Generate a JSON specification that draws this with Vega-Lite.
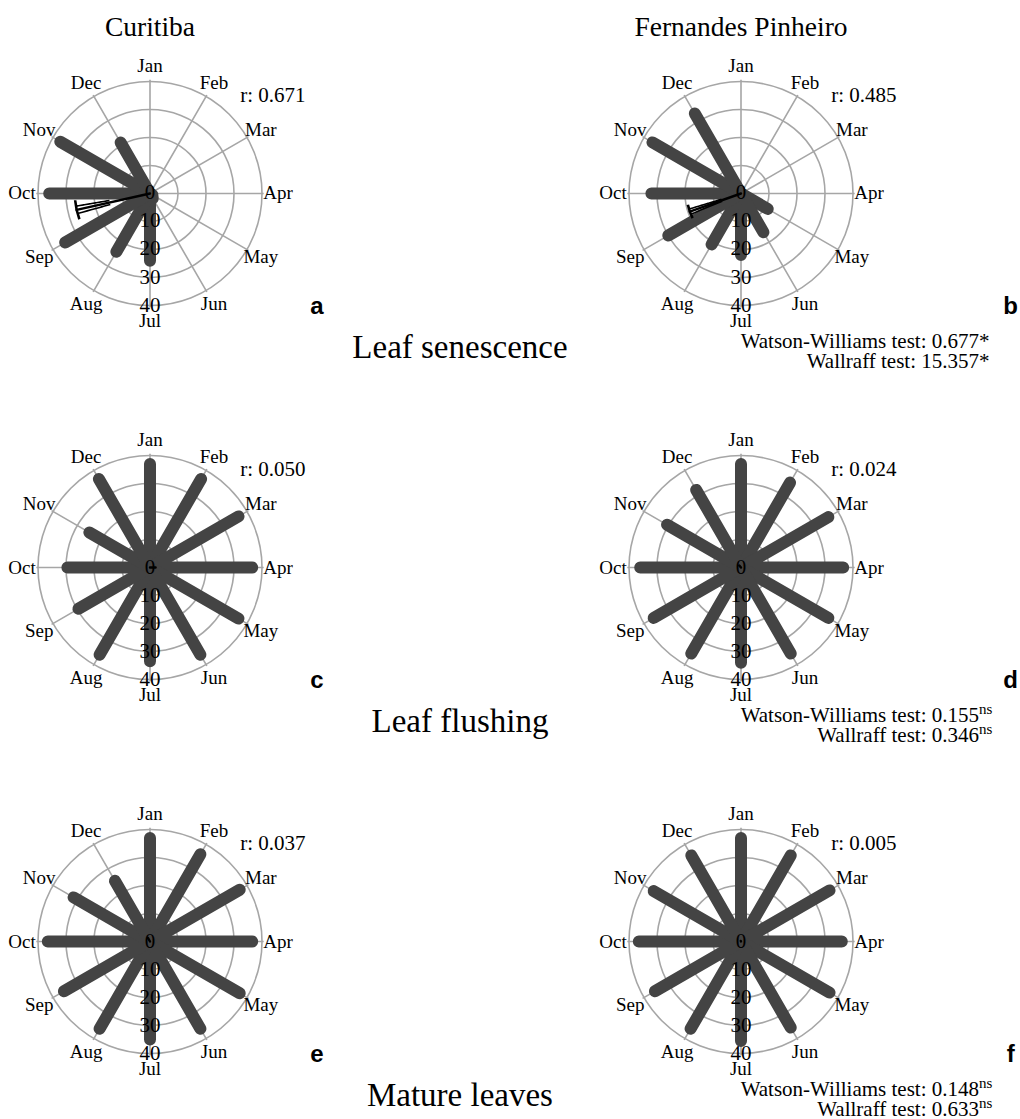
{
  "$schema": "https://vega.github.io/schema/vega-lite/v6.json",
  "padding": 0,
  "background": "white",
  "data": {"values": [
    {"k":"bar","site":"Curitiba","phase":"Leaf senescence","month":"Jan","mi":0,"count":0},
    {"k":"bar","site":"Curitiba","phase":"Leaf senescence","month":"Feb","mi":1,"count":0},
    {"k":"bar","site":"Curitiba","phase":"Leaf senescence","month":"Mar","mi":2,"count":0},
    {"k":"bar","site":"Curitiba","phase":"Leaf senescence","month":"Apr","mi":3,"count":0},
    {"k":"bar","site":"Curitiba","phase":"Leaf senescence","month":"May","mi":4,"count":1},
    {"k":"bar","site":"Curitiba","phase":"Leaf senescence","month":"Jun","mi":5,"count":2},
    {"k":"bar","site":"Curitiba","phase":"Leaf senescence","month":"Jul","mi":6,"count":24},
    {"k":"bar","site":"Curitiba","phase":"Leaf senescence","month":"Aug","mi":7,"count":24},
    {"k":"bar","site":"Curitiba","phase":"Leaf senescence","month":"Sep","mi":8,"count":35},
    {"k":"bar","site":"Curitiba","phase":"Leaf senescence","month":"Oct","mi":9,"count":36},
    {"k":"bar","site":"Curitiba","phase":"Leaf senescence","month":"Nov","mi":10,"count":37},
    {"k":"bar","site":"Curitiba","phase":"Leaf senescence","month":"Dec","mi":11,"count":21},
    {"k":"bar","site":"Fernandes Pinheiro","phase":"Leaf senescence","month":"Jan","mi":0,"count":0},
    {"k":"bar","site":"Fernandes Pinheiro","phase":"Leaf senescence","month":"Feb","mi":1,"count":0},
    {"k":"bar","site":"Fernandes Pinheiro","phase":"Leaf senescence","month":"Mar","mi":2,"count":0},
    {"k":"bar","site":"Fernandes Pinheiro","phase":"Leaf senescence","month":"Apr","mi":3,"count":0},
    {"k":"bar","site":"Fernandes Pinheiro","phase":"Leaf senescence","month":"May","mi":4,"count":11},
    {"k":"bar","site":"Fernandes Pinheiro","phase":"Leaf senescence","month":"Jun","mi":5,"count":16},
    {"k":"bar","site":"Fernandes Pinheiro","phase":"Leaf senescence","month":"Jul","mi":6,"count":22},
    {"k":"bar","site":"Fernandes Pinheiro","phase":"Leaf senescence","month":"Aug","mi":7,"count":21},
    {"k":"bar","site":"Fernandes Pinheiro","phase":"Leaf senescence","month":"Sep","mi":8,"count":30},
    {"k":"bar","site":"Fernandes Pinheiro","phase":"Leaf senescence","month":"Oct","mi":9,"count":32},
    {"k":"bar","site":"Fernandes Pinheiro","phase":"Leaf senescence","month":"Nov","mi":10,"count":36.5},
    {"k":"bar","site":"Fernandes Pinheiro","phase":"Leaf senescence","month":"Dec","mi":11,"count":33},
    {"k":"bar","site":"Curitiba","phase":"Leaf flushing","month":"Jan","mi":0,"count":37},
    {"k":"bar","site":"Curitiba","phase":"Leaf flushing","month":"Feb","mi":1,"count":36.5},
    {"k":"bar","site":"Curitiba","phase":"Leaf flushing","month":"Mar","mi":2,"count":36.5},
    {"k":"bar","site":"Curitiba","phase":"Leaf flushing","month":"Apr","mi":3,"count":36.5},
    {"k":"bar","site":"Curitiba","phase":"Leaf flushing","month":"May","mi":4,"count":36.5},
    {"k":"bar","site":"Curitiba","phase":"Leaf flushing","month":"Jun","mi":5,"count":36},
    {"k":"bar","site":"Curitiba","phase":"Leaf flushing","month":"Jul","mi":6,"count":33.5},
    {"k":"bar","site":"Curitiba","phase":"Leaf flushing","month":"Aug","mi":7,"count":36},
    {"k":"bar","site":"Curitiba","phase":"Leaf flushing","month":"Sep","mi":8,"count":29.5},
    {"k":"bar","site":"Curitiba","phase":"Leaf flushing","month":"Oct","mi":9,"count":29.5},
    {"k":"bar","site":"Curitiba","phase":"Leaf flushing","month":"Nov","mi":10,"count":25},
    {"k":"bar","site":"Curitiba","phase":"Leaf flushing","month":"Dec","mi":11,"count":36.5},
    {"k":"bar","site":"Fernandes Pinheiro","phase":"Leaf flushing","month":"Jan","mi":0,"count":37},
    {"k":"bar","site":"Fernandes Pinheiro","phase":"Leaf flushing","month":"Feb","mi":1,"count":35},
    {"k":"bar","site":"Fernandes Pinheiro","phase":"Leaf flushing","month":"Mar","mi":2,"count":36},
    {"k":"bar","site":"Fernandes Pinheiro","phase":"Leaf flushing","month":"Apr","mi":3,"count":36.5},
    {"k":"bar","site":"Fernandes Pinheiro","phase":"Leaf flushing","month":"May","mi":4,"count":36},
    {"k":"bar","site":"Fernandes Pinheiro","phase":"Leaf flushing","month":"Jun","mi":5,"count":35.5},
    {"k":"bar","site":"Fernandes Pinheiro","phase":"Leaf flushing","month":"Jul","mi":6,"count":34},
    {"k":"bar","site":"Fernandes Pinheiro","phase":"Leaf flushing","month":"Aug","mi":7,"count":35.5},
    {"k":"bar","site":"Fernandes Pinheiro","phase":"Leaf flushing","month":"Sep","mi":8,"count":36},
    {"k":"bar","site":"Fernandes Pinheiro","phase":"Leaf flushing","month":"Oct","mi":9,"count":36},
    {"k":"bar","site":"Fernandes Pinheiro","phase":"Leaf flushing","month":"Nov","mi":10,"count":30.5},
    {"k":"bar","site":"Fernandes Pinheiro","phase":"Leaf flushing","month":"Dec","mi":11,"count":32},
    {"k":"bar","site":"Curitiba","phase":"Mature leaves","month":"Jan","mi":0,"count":37},
    {"k":"bar","site":"Curitiba","phase":"Mature leaves","month":"Feb","mi":1,"count":36},
    {"k":"bar","site":"Curitiba","phase":"Mature leaves","month":"Mar","mi":2,"count":37},
    {"k":"bar","site":"Curitiba","phase":"Mature leaves","month":"Apr","mi":3,"count":36.5},
    {"k":"bar","site":"Curitiba","phase":"Mature leaves","month":"May","mi":4,"count":37},
    {"k":"bar","site":"Curitiba","phase":"Mature leaves","month":"Jun","mi":5,"count":36},
    {"k":"bar","site":"Curitiba","phase":"Mature leaves","month":"Jul","mi":6,"count":35},
    {"k":"bar","site":"Curitiba","phase":"Mature leaves","month":"Aug","mi":7,"count":36},
    {"k":"bar","site":"Curitiba","phase":"Mature leaves","month":"Sep","mi":8,"count":35.5},
    {"k":"bar","site":"Curitiba","phase":"Mature leaves","month":"Oct","mi":9,"count":36.5},
    {"k":"bar","site":"Curitiba","phase":"Mature leaves","month":"Nov","mi":10,"count":31.5},
    {"k":"bar","site":"Curitiba","phase":"Mature leaves","month":"Dec","mi":11,"count":25},
    {"k":"bar","site":"Fernandes Pinheiro","phase":"Mature leaves","month":"Jan","mi":0,"count":37},
    {"k":"bar","site":"Fernandes Pinheiro","phase":"Mature leaves","month":"Feb","mi":1,"count":35.5},
    {"k":"bar","site":"Fernandes Pinheiro","phase":"Mature leaves","month":"Mar","mi":2,"count":36.5},
    {"k":"bar","site":"Fernandes Pinheiro","phase":"Mature leaves","month":"Apr","mi":3,"count":36},
    {"k":"bar","site":"Fernandes Pinheiro","phase":"Mature leaves","month":"May","mi":4,"count":36.5},
    {"k":"bar","site":"Fernandes Pinheiro","phase":"Mature leaves","month":"Jun","mi":5,"count":35.5},
    {"k":"bar","site":"Fernandes Pinheiro","phase":"Mature leaves","month":"Jul","mi":6,"count":35.5},
    {"k":"bar","site":"Fernandes Pinheiro","phase":"Mature leaves","month":"Aug","mi":7,"count":36},
    {"k":"bar","site":"Fernandes Pinheiro","phase":"Mature leaves","month":"Sep","mi":8,"count":35.5},
    {"k":"bar","site":"Fernandes Pinheiro","phase":"Mature leaves","month":"Oct","mi":9,"count":36.5},
    {"k":"bar","site":"Fernandes Pinheiro","phase":"Mature leaves","month":"Nov","mi":10,"count":36},
    {"k":"bar","site":"Fernandes Pinheiro","phase":"Mature leaves","month":"Dec","mi":11,"count":35.5},
    {"k":"stat","site":"Curitiba","phase":"Leaf senescence","r":0.671,"rLabel":"r: 0.671","dir":8.58,"letter":"a"},
    {"k":"stat","site":"Fernandes Pinheiro","phase":"Leaf senescence","r":0.485,"rLabel":"r: 0.485","dir":8.35,"letter":"b","ww":"Watson-Williams test: 0.677","wal":"Wallraff test: 15.357","sup":"*"},
    {"k":"stat","site":"Curitiba","phase":"Leaf flushing","r":0.05,"rLabel":"r: 0.050","dir":3.0,"letter":"c"},
    {"k":"stat","site":"Fernandes Pinheiro","phase":"Leaf flushing","r":0.024,"rLabel":"r: 0.024","dir":10.67,"letter":"d","ww":"Watson-Williams test: 0.155","wal":"Wallraff test: 0.346","sup":"ns"},
    {"k":"stat","site":"Curitiba","phase":"Mature leaves","r":0.037,"rLabel":"r: 0.037","dir":11.0,"letter":"e"},
    {"k":"stat","site":"Fernandes Pinheiro","phase":"Mature leaves","r":0.005,"rLabel":"r: 0.005","dir":11.27,"letter":"f","ww":"Watson-Williams test: 0.148","wal":"Wallraff test: 0.633","sup":"ns"}
  ]},
  "facet": {
    "row": {"field": "phase", "type": "nominal", "sort": ["Leaf senescence", "Leaf flushing", "Mature leaves"], "header": {"labels": false, "title": null}},
    "column": {"field": "site", "type": "nominal", "header": {"labels": false, "title": null}}
  },
  "spacing": {"row": 4, "column": 161},
  "bounds": "flush",
  "spec": {
    "width": 429.5,
    "height": 370,
    "resolve": {"scale": {"radius": "independent"}},
    "layer": [
      {"transform": [{"filter": "datum.k == 'bar' && datum.mi == 0"}],
       "mark": {"type": "arc", "theta": 0, "theta2": 6.2832, "filled": false, "stroke": "#a6a6a6", "strokeWidth": 1.6},
       "encoding": {
         "x": {"datum": 0, "type": "quantitative", "scale": {"domain": [-53.5714, 99.8214], "nice": false, "zero": false}},
         "y": {"datum": 0, "type": "quantitative", "scale": {"domain": [-63.0357, 69.1071], "nice": false, "zero": false}},
         "radius": {"datum": 10, "type": "quantitative", "scale": {"type": "linear", "domain": [0, 40], "range": [0, 112]}}}},
      {"transform": [{"filter": "datum.k == 'bar' && datum.mi == 0"}],
       "mark": {"type": "arc", "theta": 0, "theta2": 6.2832, "filled": false, "stroke": "#a6a6a6", "strokeWidth": 1.6},
       "encoding": {
         "x": {"datum": 0, "type": "quantitative"}, "y": {"datum": 0, "type": "quantitative"},
         "radius": {"datum": 20, "type": "quantitative", "scale": {"type": "linear", "domain": [0, 40], "range": [0, 112]}}}},
      {"transform": [{"filter": "datum.k == 'bar' && datum.mi == 0"}],
       "mark": {"type": "arc", "theta": 0, "theta2": 6.2832, "filled": false, "stroke": "#a6a6a6", "strokeWidth": 1.6},
       "encoding": {
         "x": {"datum": 0, "type": "quantitative"}, "y": {"datum": 0, "type": "quantitative"},
         "radius": {"datum": 30, "type": "quantitative", "scale": {"type": "linear", "domain": [0, 40], "range": [0, 112]}}}},
      {"transform": [{"filter": "datum.k == 'bar' && datum.mi == 0"}],
       "mark": {"type": "arc", "theta": 0, "theta2": 6.2832, "filled": false, "stroke": "#a6a6a6", "strokeWidth": 1.6},
       "encoding": {
         "x": {"datum": 0, "type": "quantitative"}, "y": {"datum": 0, "type": "quantitative"},
         "radius": {"datum": 40, "type": "quantitative", "scale": {"type": "linear", "domain": [0, 40], "range": [0, 112]}}}},
      {"transform": [{"filter": "datum.k == 'bar'"}],
       "mark": {"type": "arc", "filled": false, "stroke": "#a6a6a6", "strokeWidth": 1.6},
       "encoding": {
         "x": {"datum": 0, "type": "quantitative"}, "y": {"datum": 0, "type": "quantitative"},
         "theta": {"field": "mi", "type": "quantitative", "stack": null, "scale": {"domain": [0, 12], "range": [0, 6.283185307]}},
         "theta2": {"field": "mi"},
         "radius": {"datum": 40.6, "type": "quantitative", "scale": {"type": "linear", "domain": [0, 40], "range": [0, 112]}}}},
      {"transform": [{"filter": "datum.k == 'bar'"}],
       "mark": {"type": "arc", "filled": false, "stroke": "#444444", "strokeWidth": 12, "strokeJoin": "round", "strokeCap": "round"},
       "encoding": {
         "x": {"datum": 0, "type": "quantitative"}, "y": {"datum": 0, "type": "quantitative"},
         "theta": {"field": "mi", "type": "quantitative", "stack": null, "scale": {"domain": [0, 12], "range": [0, 6.283185307]}},
         "theta2": {"field": "mi"},
         "radius": {"field": "count", "type": "quantitative", "scale": {"type": "linear", "domain": [0, 40], "range": [0, 112]}}}},
      {"transform": [{"filter": "datum.k == 'bar'"}],
       "mark": {"type": "text", "fontSize": 19, "align": "center", "baseline": "middle"},
       "encoding": {
         "x": {"datum": 0, "type": "quantitative"}, "y": {"datum": 0, "type": "quantitative"},
         "theta": {"field": "mi", "type": "quantitative", "stack": null, "scale": {"domain": [0, 12], "range": [0, 6.283185307]}},
         "radius": {"datum": 45.7, "type": "quantitative", "scale": {"type": "linear", "domain": [0, 40], "range": [0, 112]}},
         "text": {"field": "month"}}},
      {"transform": [{"filter": "datum.k == 'stat' && datum.phase == 'Leaf senescence'"}],
       "mark": {"type": "text", "fontSize": 27.5, "align": "center", "baseline": "middle"},
       "encoding": {
         "x": {"datum": 0, "type": "quantitative"},
         "y": {"datum": 59.1, "type": "quantitative"},
         "text": {"field": "site"}}},
      {"transform": [{"filter": "datum.k == 'stat'"}],
       "mark": {"type": "text", "fontSize": 21, "align": "center", "baseline": "middle"},
       "encoding": {
         "x": {"datum": 0, "type": "quantitative"},
         "y": {"datum": 0, "type": "quantitative"},
         "text": {"value": "0"}}},
      {"transform": [{"filter": "datum.k == 'stat'"}],
       "mark": {"type": "text", "fontSize": 21, "align": "center", "baseline": "middle"},
       "encoding": {
         "x": {"datum": 0, "type": "quantitative"},
         "y": {"datum": -10, "type": "quantitative"},
         "text": {"value": "10"}}},
      {"transform": [{"filter": "datum.k == 'stat'"}],
       "mark": {"type": "text", "fontSize": 21, "align": "center", "baseline": "middle"},
       "encoding": {
         "x": {"datum": 0, "type": "quantitative"},
         "y": {"datum": -20, "type": "quantitative"},
         "text": {"value": "20"}}},
      {"transform": [{"filter": "datum.k == 'stat'"}],
       "mark": {"type": "text", "fontSize": 21, "align": "center", "baseline": "middle"},
       "encoding": {
         "x": {"datum": 0, "type": "quantitative"},
         "y": {"datum": -30, "type": "quantitative"},
         "text": {"value": "30"}}},
      {"transform": [{"filter": "datum.k == 'stat'"}],
       "mark": {"type": "text", "fontSize": 21, "align": "center", "baseline": "middle"},
       "encoding": {
         "x": {"datum": 0, "type": "quantitative"},
         "y": {"datum": -40, "type": "quantitative"},
         "text": {"value": "40"}}},
      {"transform": [{"filter": "datum.k == 'stat'"}],
       "mark": {"type": "arc", "filled": false, "stroke": "black", "strokeWidth": 2.4, "strokeJoin": "round"},
       "encoding": {
         "x": {"datum": 0, "type": "quantitative"}, "y": {"datum": 0, "type": "quantitative"},
         "theta": {"field": "dir", "type": "quantitative", "stack": null, "scale": {"domain": [0, 12], "range": [0, 6.283185307]}},
         "theta2": {"field": "dir"},
         "radius": {"field": "r", "type": "quantitative", "scale": {"type": "linear", "domain": [0, 1], "range": [0, 112]}}}},
      {"transform": [{"filter": "datum.k == 'stat' && datum.r > 0.1"}],
       "mark": {"type": "arc", "filled": false, "stroke": "black", "strokeWidth": 2.6, "thetaOffset": -0.13, "theta2Offset": 0.13},
       "encoding": {
         "x": {"datum": 0, "type": "quantitative"}, "y": {"datum": 0, "type": "quantitative"},
         "theta": {"field": "dir", "type": "quantitative", "stack": null, "scale": {"domain": [0, 12], "range": [0, 6.283185307]}},
         "theta2": {"field": "dir"},
         "radius": {"field": "r", "type": "quantitative", "scale": {"type": "linear", "domain": [0, 1], "range": [0, 112]}},
         "radius2": {"field": "r"}}},
      {"transform": [{"filter": "datum.k == 'stat' && datum.r > 0.1"}],
       "mark": {"type": "arc", "filled": false, "stroke": "black", "strokeWidth": 1.6, "strokeDash": [4, 2], "thetaOffset": 0.05, "theta2Offset": 0.05, "radius2Offset": -34},
       "encoding": {
         "x": {"datum": 0, "type": "quantitative"}, "y": {"datum": 0, "type": "quantitative"},
         "theta": {"field": "dir", "type": "quantitative", "stack": null, "scale": {"domain": [0, 12], "range": [0, 6.283185307]}},
         "theta2": {"field": "dir"},
         "radius": {"field": "r", "type": "quantitative", "scale": {"type": "linear", "domain": [0, 1], "range": [0, 112]}},
         "radius2": {"field": "r"}}},
      {"transform": [{"filter": "datum.k == 'stat' && datum.r > 0.1"}],
       "mark": {"type": "arc", "filled": false, "stroke": "black", "strokeWidth": 1.6, "strokeDash": [4, 2], "thetaOffset": -0.05, "theta2Offset": -0.05, "radius2Offset": -34},
       "encoding": {
         "x": {"datum": 0, "type": "quantitative"}, "y": {"datum": 0, "type": "quantitative"},
         "theta": {"field": "dir", "type": "quantitative", "stack": null, "scale": {"domain": [0, 12], "range": [0, 6.283185307]}},
         "theta2": {"field": "dir"},
         "radius": {"field": "r", "type": "quantitative", "scale": {"type": "linear", "domain": [0, 1], "range": [0, 112]}},
         "radius2": {"field": "r"}}},
      {"transform": [{"filter": "datum.k == 'stat'"}],
       "mark": {"type": "text", "fontSize": 21, "align": "left", "baseline": "middle"},
       "encoding": {
         "x": {"datum": 32.2, "type": "quantitative"},
         "y": {"datum": 34.8, "type": "quantitative"},
         "text": {"field": "rLabel"}}},
      {"transform": [{"filter": "datum.k == 'stat' && datum.site == 'Curitiba'"}],
       "mark": {"type": "text", "font": "Liberation Sans", "fontWeight": "bold", "fontSize": 24, "align": "center", "baseline": "alphabetic"},
       "encoding": {
         "x": {"datum": 59.6, "type": "quantitative"},
         "y": {"datum": -43.2, "type": "quantitative"},
         "text": {"field": "letter"}}},
      {"transform": [{"filter": "datum.k == 'stat' && datum.site == 'Fernandes Pinheiro'"}],
       "mark": {"type": "text", "font": "Liberation Sans", "fontWeight": "bold", "fontSize": 24, "align": "center", "baseline": "alphabetic"},
       "encoding": {
         "x": {"datum": 96.3, "type": "quantitative"},
         "y": {"datum": -43.2, "type": "quantitative"},
         "text": {"field": "letter"}}},
      {"transform": [{"filter": "datum.k == 'stat' && datum.site == 'Curitiba'"}],
       "mark": {"type": "text", "fontSize": 33, "align": "center", "baseline": "alphabetic"},
       "encoding": {
         "x": {"datum": 110.7, "type": "quantitative"},
         "y": {"datum": -58.6, "type": "quantitative"},
         "text": {"field": "phase"}}},
      {"transform": [{"filter": "datum.k == 'stat' && datum.site == 'Fernandes Pinheiro'"}],
       "mark": {"type": "text", "fontSize": 21, "align": "right", "baseline": "alphabetic"},
       "encoding": {
         "x": {"datum": 85, "type": "quantitative"},
         "y": {"datum": -55.3, "type": "quantitative"},
         "text": {"field": "ww"}}},
      {"transform": [{"filter": "datum.k == 'stat' && datum.site == 'Fernandes Pinheiro'"}],
       "mark": {"type": "text", "fontSize": 21, "align": "right", "baseline": "alphabetic"},
       "encoding": {
         "x": {"datum": 85, "type": "quantitative"},
         "y": {"datum": -62.3, "type": "quantitative"},
         "text": {"field": "wal"}}},
      {"transform": [{"filter": "datum.k == 'stat' && datum.sup == 'ns'"}],
       "mark": {"type": "text", "fontSize": 15, "align": "left", "baseline": "alphabetic"},
       "encoding": {
         "x": {"datum": 85, "type": "quantitative"},
         "y": {"datum": -52.4, "type": "quantitative"},
         "text": {"field": "sup"}}},
      {"transform": [{"filter": "datum.k == 'stat' && datum.sup == 'ns'"}],
       "mark": {"type": "text", "fontSize": 15, "align": "left", "baseline": "alphabetic"},
       "encoding": {
         "x": {"datum": 85, "type": "quantitative"},
         "y": {"datum": -59.4, "type": "quantitative"},
         "text": {"field": "sup"}}},
      {"transform": [{"filter": "datum.k == 'stat' && datum.sup == '*'"}],
       "mark": {"type": "text", "fontSize": 21, "align": "left", "baseline": "alphabetic"},
       "encoding": {
         "x": {"datum": 85, "type": "quantitative"},
         "y": {"datum": -55.3, "type": "quantitative"},
         "text": {"field": "sup"}}},
      {"transform": [{"filter": "datum.k == 'stat' && datum.sup == '*'"}],
       "mark": {"type": "text", "fontSize": 21, "align": "left", "baseline": "alphabetic"},
       "encoding": {
         "x": {"datum": 85, "type": "quantitative"},
         "y": {"datum": -62.3, "type": "quantitative"},
         "text": {"field": "sup"}}}
    ]
  },
  "config": {
    "view": {"stroke": null},
    "axis": {"disable": true},
    "legend": {"disable": true},
    "text": {"font": "Liberation Serif", "color": "black"}
  }
}
